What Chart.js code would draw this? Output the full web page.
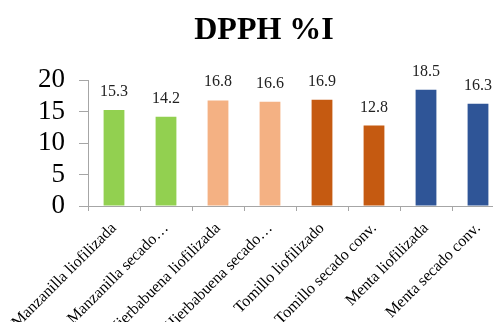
<!doctype html>
<html lang="es">
<head>
<meta charset="utf-8">
<title>DPPH %I</title>
<script src="https://cdn.jsdelivr.net/npm/chart.js@4/dist/chart.umd.min.js"></script>
<style>
  html, body { margin: 0; padding: 0; background: #fff; overflow: hidden; }
  #wrap { width: 528px; height: 322px; }
</style>
</head>
<body>
<div id="wrap"><canvas id="chart" width="528" height="322"></canvas></div>
<script>
// data
var categories = [
  'Manzanilla liofilizada',
  'Manzanilla secado\u2026',
  'Hierbabuena liofilizada',
  'Hierbabuena secado\u2026',
  'Tomillo liofilizado',
  'Tomillo secado conv.',
  'Menta liofilizada',
  'Menta secado conv.'
];
var dpph = [15.3, 14.2, 16.8, 16.6, 16.9, 12.8, 18.5, 16.3];
var barColors = ['#92D050', '#92D050', '#F4B183', '#F4B183', '#C55A11', '#C55A11', '#2F5597', '#2F5597'];
var yTicks = [0, 5, 10, 15, 20];

var serif = "'Liberation Serif', 'Times New Roman', serif";
var axisGray = '#A6A6A6';

// value labels above the bars
var valueLabels = {
  id: 'valueLabels',
  afterDatasetsDraw: function(chart) {
    var ctx = chart.ctx;
    var meta = chart.getDatasetMeta(0);
    ctx.save();
    ctx.font = '16px ' + serif;
    ctx.fillStyle = '#222';
    ctx.textAlign = 'center';
    ctx.textBaseline = 'alphabetic';
    meta.data.forEach(function(bar, i) {
      ctx.fillText(dpph[i].toFixed(1), bar.x, bar.y - 14);
    });
    ctx.restore();
  }
};

new Chart(document.getElementById('chart'), {
  type: 'bar',
  data: {
    labels: categories,
    datasets: [{
      label: 'DPPH %I',
      data: dpph,
      backgroundColor: barColors,
      borderWidth: 0,
      categoryPercentage: 1,
      barPercentage: 0.4
    }]
  },
  options: {
    responsive: false,
    animation: false,
    devicePixelRatio: 1,
    layout: { padding: 0 },
    plugins: {
      legend: { display: false },
      tooltip: { enabled: false },
      title: {
        display: true,
        text: 'DPPH %I',
        color: '#000',
        font: { family: serif, size: 32, weight: 'bold' },
        padding: { top: 12, bottom: 30 }
      }
    },
    scales: {
      x: {
        grid: { display: true, drawOnChartArea: false, drawTicks: true, tickLength: 5, color: axisGray, offset: true },
        border: { display: true, color: axisGray, width: 1 },
        ticks: {
          color: '#000',
          font: { family: serif, size: 16 },
          minRotation: 45,
          maxRotation: 45,
          autoSkip: false,
          padding: 8
        },
        afterFit: function(scale) { scale.height = 116; }
      },
      y: {
        min: 0,
        max: 20,
        grid: { display: true, drawOnChartArea: false, drawTicks: true, tickLength: 9, color: axisGray },
        border: { display: true, color: axisGray, width: 1 },
        afterBuildTicks: function(scale) {
          scale.ticks = yTicks.map(function(v) { return { value: v }; });
        },
        ticks: {
          color: '#000',
          font: { family: serif, size: 27 },
          padding: 14,
          autoSkip: false
        },
        afterFit: function(scale) { scale.width = 88; }
      },
      // empty strip on the right so the plot ends off-canvas like the reference
      spacer: {
        type: 'linear',
        position: 'right',
        grid: { display: false },
        border: { display: false },
        ticks: { display: false },
        afterFit: function(scale) { scale.width = 24; }
      }
    }
  },
  plugins: [valueLabels]
});
</script>
</body>
</html>
